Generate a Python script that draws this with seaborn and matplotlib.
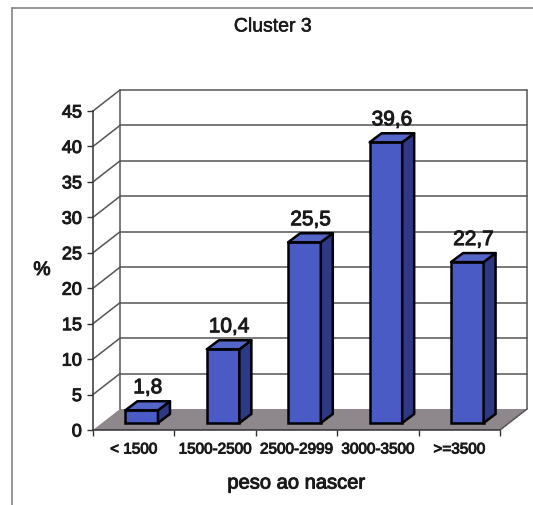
import numpy as np
import pandas as pd
import matplotlib
matplotlib.use("Agg")
import matplotlib.pyplot as plt
import matplotlib.patheffects as pe
import seaborn as sns
from matplotlib.patches import Polygon
from matplotlib.lines import Line2D

# Birth-weight distribution for cluster 3 (percent of births)
categories = ["< 1500", "1500-2500", "2500-2999", "3000-3500", ">=3500"]
percent = [1.8, 10.4, 25.5, 39.6, 22.7]
value_labels = ["1,8", "10,4", "25,5", "39,6", "22,7"]
y_ticks = [0, 5, 10, 15, 20, 25, 30, 35, 40, 45]

FRONT = "#4a5bc6"
SIDE = "#2d3886"
TOP = "#5566c9"
FLOOR = "#8e878b"
GRID = "#555555"

sns.set_theme(style="white")
plt.rcParams["font.family"] = ["Liberation Sans", "DejaVu Sans"]

# slightly heavier strokes for all lettering
heavy = [pe.withStroke(linewidth=0.7, foreground="#1a1a1a")]

W, H = 533, 505
fig = plt.figure(figsize=(W / 100, H / 100), dpi=100)
fig.patch.set_facecolor("white")


def fx(px):
    return px / W


def fy(py):
    return 1 - py / H


ax = fig.add_axes([fx(93), fy(430), fx(500) - fx(93), fy(111) - fy(430)])
df = pd.DataFrame({"peso": categories, "pct": percent})
sns.barplot(data=df, x="peso", y="pct", ax=ax, color=FRONT, width=0.4,
            saturation=1, edgecolor="black", linewidth=1.8, zorder=5)
bars = list(ax.containers[0])
ax.set_xlim(-0.5, len(categories) - 0.5)
ax.set_ylim(0, 45)
ax.set_facecolor("white")


def px_offset(dx, dy):
    """Screen shift in pixels (right, up) expressed in data units."""
    inv = ax.transData.inverted()
    x0, y0 = inv.transform((0, 0))
    x1, y1 = inv.transform((dx, dy))
    return x1 - x0, y1 - y0


WX, WY = px_offset(27, 21)   # depth of the back wall
BX, BY = px_offset(8, 7)     # bars sit a little behind the front edge
DX, DY = px_offset(12, 9)    # depth of each bar

x_lo, x_hi = ax.get_xlim()
line_kw = dict(color=GRID, lw=1.1, clip_on=False, zorder=1)

# floor
ax.add_patch(Polygon([(x_lo, 0), (x_hi, 0), (x_hi + WX, WY), (x_lo + WX, WY)],
                     closed=True, facecolor=FLOOR, edgecolor="none",
                     clip_on=False, zorder=0.5))

# back wall gridlines and left-wall diagonals
for t in y_ticks[1:]:
    ax.plot([x_lo + WX, x_hi + WX], [t + WY, t + WY], **line_kw)
    ax.plot([x_lo, x_lo + WX], [t, t + WY], **line_kw)
ax.plot([x_lo + WX, x_lo + WX], [WY, 45 + WY], **line_kw)
ax.plot([x_hi + WX, x_hi + WX], [WY, 45 + WY], **line_kw)
ax.plot([x_hi, x_hi + WX], [0, WY], **line_kw)

# 3D faces for each bar
_, pad = px_offset(0, 4)
for bar, lab in zip(bars, value_labels):
    x, w, h = bar.get_x() + BX, bar.get_width(), bar.get_height()
    bar.set_x(x)
    bar.set_y(BY)
    side = [(x + w, BY), (x + w + DX, BY + DY), (x + w + DX, BY + DY + h), (x + w, BY + h)]
    top = [(x, BY + h), (x + w, BY + h), (x + w + DX, BY + h + DY), (x + DX, BY + h + DY)]
    ax.add_patch(Polygon(side, closed=True, facecolor=SIDE, edgecolor="black",
                         lw=1.8, joinstyle="round", clip_on=False, zorder=5))
    ax.add_patch(Polygon(top, closed=True, facecolor=TOP, edgecolor="black",
                         lw=1.8, joinstyle="round", clip_on=False, zorder=5))
    ax.text(x + (w + DX) / 2, BY + h + DY + pad, lab, ha="center", va="bottom",
            fontsize=15, color="#1a1a1a", zorder=6, path_effects=heavy)

# axes styling
for s in ["top", "right"]:
    ax.spines[s].set_visible(False)
for s in ["left", "bottom"]:
    ax.spines[s].set_color("#333333")
    ax.spines[s].set_linewidth(1.1)
    ax.spines[s].set_zorder(4)

ax.set_yticks(y_ticks)
ax.tick_params(axis="y", direction="out", length=4, width=1, color="#333333",
               labelsize=13, pad=4, left=True, labelcolor="#1a1a1a")
ax.set_xticks(range(len(categories)))
ax.set_xticklabels(categories)
ax.set_xticks(np.arange(-0.5, len(categories), 1), minor=True)
ax.tick_params(axis="x", which="major", length=0, labelsize=11, pad=9,
               labelcolor="#1a1a1a")
ax.tick_params(axis="x", which="minor", direction="out", length=4, width=1,
               color="#333333", bottom=True)
for t in ax.get_xticklabels() + ax.get_yticklabels():
    t.set_path_effects(heavy)

ax.set_ylabel("%", rotation=0, fontsize=14, ha="center", va="center",
              color="#1a1a1a", path_effects=heavy)
ax.yaxis.set_label_coords((42 - 93) / 407, 0.5)
ax.set_xlabel("peso ao nascer", fontsize=14.5, va="center", color="#1a1a1a",
              path_effects=heavy)
ax.xaxis.set_label_coords(0.5, (430 - 483) / 319)

fig.text(fx(273), fy(27), "Cluster 3", ha="center", va="center", fontsize=14,
         color="#1a1a1a", path_effects=[pe.withStroke(linewidth=0.4, foreground="#1a1a1a")])

# chart frame
fig.add_artist(Line2D([fx(12), fx(12)], [fy(8), 0], color="#8c8c8c", lw=1.3))
fig.add_artist(Line2D([fx(12), 1], [fy(8), fy(8)], color="#8c8c8c", lw=1.3))

fig.savefig("out.png", dpi=100, facecolor="white")
